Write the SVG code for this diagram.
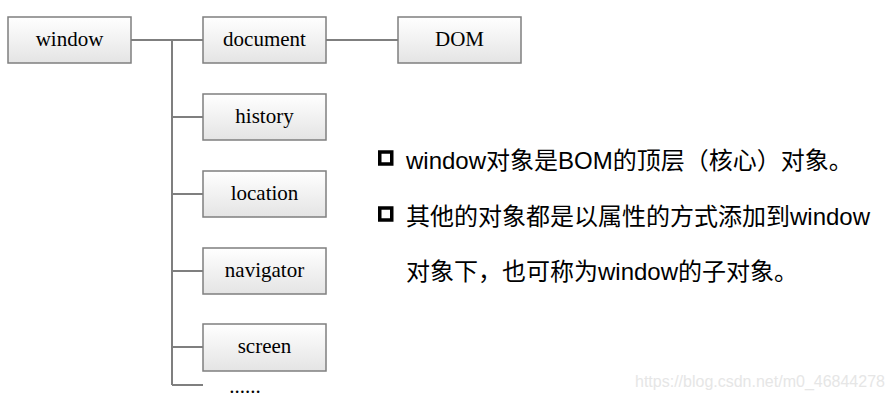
<svg xmlns="http://www.w3.org/2000/svg" width="892" height="401" viewBox="0 0 892 401">
<style>
.box{fill:url(#g);stroke:#7f7f7f;stroke-width:1.5}
.lbl{font-family:"Liberation Serif","Times New Roman",serif;font-size:21px;fill:#000;text-anchor:middle}
.con{stroke:#7f7f7f;stroke-width:2;fill:none}
.txt{font-family:"Liberation Sans",Arial,"Noto Sans CJK SC",sans-serif;font-size:24px;fill:#000}
.bul{fill:none;stroke:#000;stroke-width:3.5}
</style>
<defs>
<linearGradient id="g" x1="0" y1="0" x2="0" y2="1">
<stop offset="0" stop-color="#ffffff"/>
<stop offset="1" stop-color="#e4e4e4"/>
</linearGradient>
</defs>
<rect width="892" height="401" fill="#fff"/>
<g id="connectors">
<path class="con" d="M131,40H203M172,40V385M172,117H203M172,194H203M172,271H203M172,347H203M172,385H203M326,40H398"/>
</g>
<g id="n-window"><rect class="box" x="8" y="17" width="123" height="46"/><text class="lbl" x="69.5" y="46">window</text></g>
<g id="n-document"><rect class="box" x="203" y="17" width="123" height="46"/><text class="lbl" x="264.5" y="46">document</text></g>
<g id="n-dom"><rect class="box" x="398" y="17" width="123" height="46"/><text class="lbl" x="459.5" y="46">DOM</text></g>
<g id="n-history"><rect class="box" x="203" y="94" width="123" height="46"/><text class="lbl" x="264.5" y="123">history</text></g>
<g id="n-location"><rect class="box" x="203" y="171" width="123" height="46"/><text class="lbl" x="264.5" y="200">location</text></g>
<g id="n-navigator"><rect class="box" x="203" y="248" width="123" height="46"/><text class="lbl" x="264.5" y="277">navigator</text></g>
<g id="n-screen"><rect class="box" x="203" y="324" width="123" height="47"/><text class="lbl" x="264.5" y="353">screen</text></g>
<g id="n-more"><text class="lbl" x="245" y="393">......</text></g>
<g id="notes">
<rect class="bul" x="379.75" y="152" width="12" height="12"/>
<rect class="bul" x="379.75" y="208" width="12" height="12"/>
<text class="txt" x="406" y="169">window对象是BOM的顶层（核心）对象。</text>
<text class="txt" x="406" y="225">其他的对象都是以属性的方式添加到window</text>
<text class="txt" x="406" y="280">对象下，也可称为window的子对象。</text>
</g>
<text x="635" y="387" font-family="Liberation Sans,Arial,sans-serif" font-size="16" fill="#e6e6e6">https://blog.csdn.net/m0_46844278</text>
</svg>
